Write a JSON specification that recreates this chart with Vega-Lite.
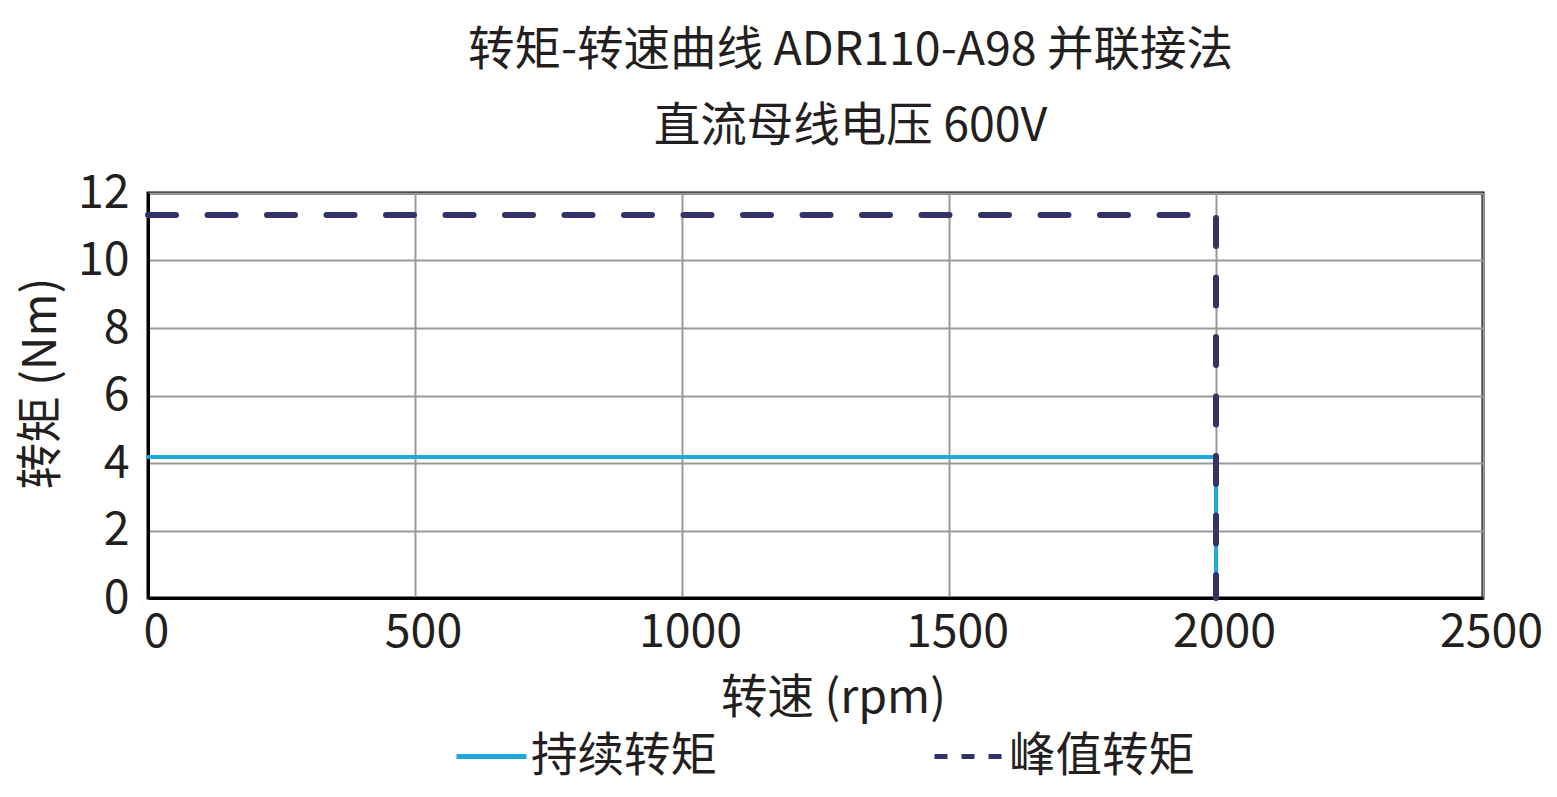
{
  "$schema": "https://vega.github.io/schema/vega-lite/v6.json",
  "width": 1335,
  "height": 405,
  "autosize": {"type": "none"},
  "padding": {"left": 148, "top": 193, "right": 74, "bottom": 199},
  "background": "white",
  "title": {
    "text": ["转矩-转速曲线 ADR110-A98 并联接法", "直流母线电压 600V"],
    "font": "Noto Sans CJK SC",
    "fontSize": 46.5,
    "fontWeight": "normal",
    "color": "#231f20",
    "lineHeight": 76,
    "anchor": "middle",
    "dx": 35,
    "offset": 20
  },
  "config": {
    "view": {"stroke": "black", "strokeWidth": 3},
    "font": "Noto Sans CJK SC"
  },
  "data": {
    "values": [
      {"series": "持续转矩", "speed": 0, "torque": 4.18, "o": 1},
      {"series": "持续转矩", "speed": 2000, "torque": 4.18, "o": 2},
      {"series": "持续转矩", "speed": 2000, "torque": 0, "o": 3},
      {"series": "峰值转矩", "speed": 0, "torque": 11.35, "o": 1},
      {"series": "峰值转矩", "speed": 2000, "torque": 11.35, "o": 2},
      {"series": "峰值转矩", "speed": 2000, "torque": 0, "o": 3}
    ]
  },
  "mark": {"type": "line", "strokeCap": "round", "strokeJoin": "miter"},
  "encoding": {
    "x": {
      "field": "speed",
      "type": "quantitative",
      "scale": {"domain": [0, 2500], "nice": false},
      "axis": {
        "values": [0, 500, 1000, 1500, 2000, 2500],
        "format": "d",
        "title": "转速 (rpm)",
        "titleFont": "Noto Sans CJK SC",
        "titleFontSize": 46.5,
        "titleFontWeight": "normal",
        "titleColor": "#231f20",
        "titlePadding": 20,
        "titleX": 685,
        "labelFont": "Noto Sans CJK SC",
        "labelFontSize": 46.5,
        "labelColor": "#231f20",
        "labelPadding": 11,
        "labelOffset": 8,
        "labelFlush": false,
        "ticks": false,
        "domain": true,
        "domainColor": "black",
        "domainWidth": 3,
        "grid": true,
        "gridColor": "#999999",
        "gridWidth": 2
      }
    },
    "y": {
      "field": "torque",
      "type": "quantitative",
      "scale": {"domain": [0, 12], "nice": false},
      "axis": {
        "values": [0, 2, 4, 6, 8, 10, 12],
        "title": "转矩 (Nm)",
        "titleFont": "Noto Sans CJK SC",
        "titleFontSize": 46.5,
        "titleFontWeight": "normal",
        "titleColor": "#231f20",
        "titlePadding": 12,
        "titleY": 190,
        "labelFont": "Noto Sans CJK SC",
        "labelFontSize": 46.5,
        "labelColor": "#231f20",
        "labelPadding": 19,
        "labelFlush": false,
        "ticks": false,
        "domain": true,
        "domainColor": "black",
        "domainWidth": 3,
        "grid": true,
        "gridColor": "#999999",
        "gridWidth": 2
      }
    },
    "order": {"field": "o"},
    "color": {
      "field": "series",
      "type": "nominal",
      "scale": {"domain": ["持续转矩", "峰值转矩"], "range": ["#1fa8dd", "#33336a"]},
      "legend": {
        "title": null,
        "orient": "none",
        "legendX": 306,
        "legendY": 526,
        "direction": "horizontal",
        "columns": 2,
        "columnPadding": 207,
        "symbolType": "stroke",
        "symbolSize": 4900,
        "symbolStrokeWidth": 5,
        "labelFont": "Noto Sans CJK SC",
        "labelFontSize": 46.5,
        "labelColor": "#231f20",
        "labelOffset": 2,
        "labelLimit": 400,
        "encode": {
          "symbols": {
            "update": {
              "strokeDash": {"signal": "datum.value === '峰值转矩' ? [13, 14] : [1, 0]"},
              "strokeWidth": {"value": 5}
            }
          }
        }
      }
    },
    "strokeDash": {
      "condition": {"test": "datum.series === '峰值转矩'", "value": [28, 31.5]},
      "value": [1, 0]
    },
    "strokeWidth": {
      "condition": {"test": "datum.series === '峰值转矩'", "value": 6},
      "value": 4
    }
  }
}
